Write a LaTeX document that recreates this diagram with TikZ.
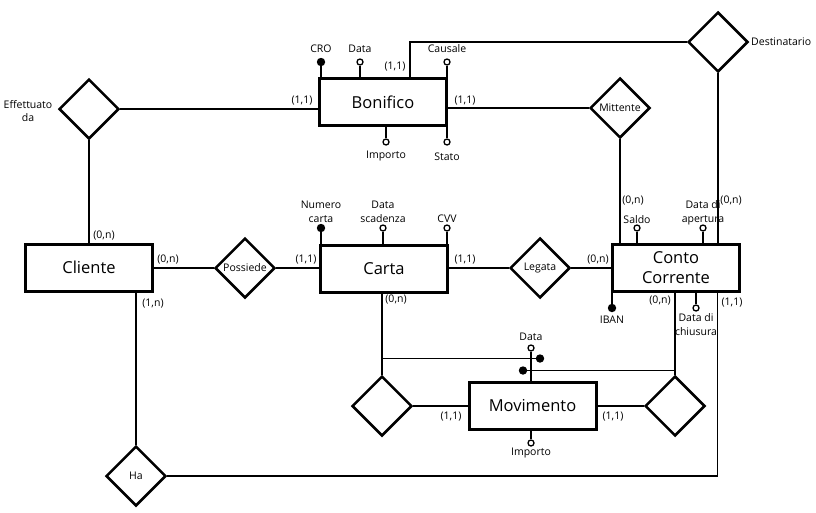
\documentclass[tikz,border=0pt]{standalone}
\usepackage{fontspec}
\setmainfont{Open Sans}
\usetikzlibrary{shapes.geometric}
\begin{document}
\begin{tikzpicture}[x=1pt,y=-1pt,
  entity/.style={draw, line width=3pt, minimum width=127pt, minimum height=47pt, inner sep=0pt, font=\fontsize{16.5}{20}\selectfont, align=center},
  rel/.style={draw, diamond, line width=2.5pt, minimum width=60pt, minimum height=60pt, inner sep=0pt, aspect=1, font=\fontsize{10.5}{12}\selectfont},
  lbl/.style={inner sep=0pt, font=\fontsize{10.5}{13.5}\selectfont, align=center},
  card/.style={inner sep=0pt, font=\fontsize{10.5}{12}\selectfont},
  conn/.style={line width=1.6pt},
  attr/.style={circle, draw, fill=white, line width=1.3pt, minimum size=6pt, inner sep=0pt},
  key/.style={circle, draw, fill=black, line width=1.3pt, minimum size=7pt, inner sep=0pt},
]
\fill[white] (0,0) rectangle (816,512);
\useasboundingbox (0,0) rectangle (816,512);

% entities
\node[entity] (bon) at (383,102) {Bonifico};
\node[entity] (cli) at (89,267.5) {Cliente};
\node[entity] (car) at (384,269) {Carta};
\node[entity] (cc) at (676,267.5) {Conto\\Corrente};
\node[entity] (mov) at (532.5,405.5) {Movimento};

% relationships
\node[rel] (eff) at (89,109) {};
\node[rel] (mit) at (620,108) {Mittente};
\node[rel] (dest) at (718,42) {};
\node[rel] (pos) at (245,268) {Possiede};
\node[rel] (leg) at (540,268) {Legata};
\node[rel] (ha) at (136,476) {Ha};
\node[rel] (rm1) at (382,406) {};
\node[rel] (rm2) at (675,406) {};

\node[lbl] (effl) at (28,111) {Effettuato\\da};
\node[lbl, anchor=west] (destl) at (751,42) {Destinatario};

% connectors
\coordinate (bt) at (410,42);
\coordinate (hr) at (717.5,476);
\draw[conn] (eff.east) -- (eff.east -| bon.west);
\draw[conn] (eff.south) -- (cli.north);
\draw[conn] (mit.west) -- (mit.west -| bon.east);
\draw[conn] (bon.north -| bt) -- (bt) -- (dest.west);
\draw[conn] (mit.south) -- (mit.south |- cc.north);
\draw[conn] (dest.south) -- (dest.south |- cc.north);
\draw[conn] (cli.east |- pos.west) -- (pos.west);
\draw[conn] (pos.east) -- (pos.east -| car.west);
\draw[conn] (car.east |- leg.west) -- (leg.west);
\draw[conn] (leg.east) -- (leg.east -| cc.west);
\draw[conn] (cli.south -| ha.north) -- (ha.north);
\draw[conn] (ha.east) -- (hr) -- (hr |- cc.south);
\draw[conn] (car.south -| rm1.north) -- (rm1.north);
\draw[conn] (rm1.east) -- (rm1.east -| mov.west);
\draw[conn] (mov.east |- rm2.west) -- (rm2.west);
\draw[conn] (cc.south -| rm2.north) -- (rm2.north);

% external identifier of Movimento
\node[key] (k1) at (540,358.5) {};
\node[key] (k2) at (523,370.5) {};
\draw[conn] (rm1.north |- k1) -- (k1);
\draw[conn] (rm2.north |- k2) -- (k2);

% attributes: Bonifico
\node[key] (cro) at (321,62) {};
\draw[conn] (cro) -- (cro |- bon.north);
\node[lbl] (crol) at (321,49) {CRO};
\node[attr] (bdata) at (360,62) {};
\draw[conn] (bdata) -- (bdata |- bon.north);
\node[lbl] (bdatal) at (360,49) {Data};
\node[attr] (caus) at (447,62) {};
\draw[conn] (caus) -- (caus |- bon.north);
\node[lbl] (causl) at (447,49) {Causale};
\node[attr] (bimp) at (386,142) {};
\draw[conn] (bimp) -- (bimp |- bon.south);
\node[lbl] (bimpl) at (386,156) {Importo};
\node[attr] (stato) at (447,142) {};
\draw[conn] (stato) -- (stato |- bon.south);
\node[lbl] (statol) at (447,157) {Stato};

% attributes: Carta
\node[key] (ncar) at (321,228) {};
\draw[conn] (ncar) -- (ncar |- car.north);
\node[lbl] (ncarl) at (321,212) {Numero\\carta};
\node[attr] (dsc) at (383,228) {};
\draw[conn] (dsc) -- (dsc |- car.north);
\node[lbl] (dscl) at (383,212) {Data\\scadenza};
\node[attr] (cvv) at (447,228) {};
\draw[conn] (cvv) -- (cvv |- car.north);
\node[lbl] (cvvl) at (447,219) {CVV};

% attributes: Conto Corrente
\node[attr] (saldo) at (637,228) {};
\draw[conn] (saldo) -- (saldo |- cc.north);
\node[lbl] (saldol) at (637,220) {Saldo};
\node[attr] (dap) at (703,228) {};
\draw[conn] (dap) -- (dap |- cc.north);
\node[lbl] (dapl) at (703,213) {Data di\\apertura};
\node[key] (iban) at (612,308) {};
\draw[conn] (iban) -- (iban |- cc.south);
\node[lbl] (ibanl) at (612,320) {IBAN};
\node[attr] (dch) at (696,308) {};
\draw[conn] (dch) -- (dch |- cc.south);
\node[lbl] (dchl) at (696,324.5) {Data di\\chiusura};

% attributes: Movimento
\node[attr] (mdata) at (531,348) {};
\draw[conn] (mdata) -- (mdata |- mov.north);
\node[lbl] (mdatal) at (531,337) {Data};
\node[attr] (mimp) at (531,443) {};
\draw[conn] (mimp) -- (mimp |- mov.south);
\node[lbl] (mimpl) at (531,453) {Importo};

% cardinalities
\node[card] (c1) at (302,101) {(1,1)};
\node[card] (c2) at (395,67) {(1,1)};
\node[card] (c3) at (465,101) {(1,1)};
\node[card] (c4) at (104,236) {(0,n)};
\node[card] (c5) at (168,260) {(0,n)};
\node[card] (c6) at (153,304) {(1,n)};
\node[card] (c7) at (306,260) {(1,1)};
\node[card] (c8) at (465,260) {(1,1)};
\node[card] (c9) at (396,300) {(0,n)};
\node[card] (c10) at (598,260) {(0,n)};
\node[card] (c11) at (633,201) {(0,n)};
\node[card] (c12) at (731,201) {(0,n)};
\node[card] (c13) at (660,301) {(0,n)};
\node[card] (c14) at (732,303) {(1,1)};
\node[card] (c15) at (451,417) {(1,1)};
\node[card] (c16) at (613,417) {(1,1)};
\end{tikzpicture}
\end{document}
